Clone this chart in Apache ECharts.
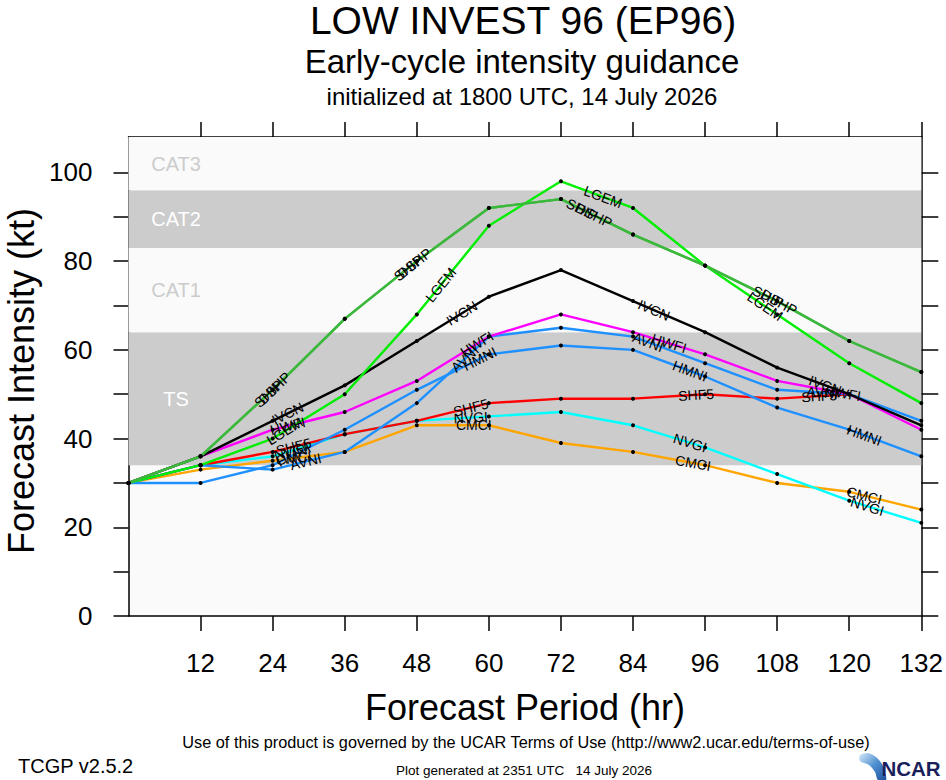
<!DOCTYPE html>
<html>
<head>
<meta charset="utf-8">
<script src="https://cdn.jsdelivr.net/npm/echarts@6.0.0/dist/echarts.min.js"></script>
<style>
  html, body { margin: 0; padding: 0; background: #ffffff; }
  #chart { width: 946px; height: 780px; }
</style>
</head>
<body>
<div id="chart"></div>
<script>
(function () {
    "use strict";

    /* forecast hours and tick values */
    var hours = [0, 12, 24, 36, 48, 60, 72, 84, 96, 108, 120, 132];
    var xLabelTicks = [12, 24, 36, 48, 60, 72, 84, 96, 108, 120, 132];
    var yMinorTicks = [0, 10, 20, 30, 40, 50, 60, 70, 80, 90, 100];
    var yLabelTicks = [0, 20, 40, 60, 80, 100];

    /* intensity (kt) per model */
    var cmci = [30, 33, 35, 37, 43, 43, 39, 37, 34, 30, 28, 24];
    var nvgi = [30, 34, 36, 41, 44, 45, 46, 43, 38, 32, 26, 21];
    var shf5 = [30, 34, 37, 41, 44, 48, 49, 49, 50, 49, 50];
    var hmni = [30, 30, 34, 42, 51, 59, 61, 60, 54, 47, 42, 36];
    var avni = [30, 34, 33, 37, 48, 63, 65, 63, 57, 51, 50, 44];
    var hwfi = [30, 36, 42, 46, 53, 63, 68, 64, 59, 53, 50, 42];
    var ivcn = [30, 36, 44, 52, 62, 72, 78, 71, 64, 56, 50, 43];
    var lgem = [30, 34, 40, 50, 68, 88, 98, 92, 79, 68, 57, 48];
    var ship = [30, 36, 51, 67, 80, 92, 94, 86, 79, 71, 62, 55];
    var dshp = [30, 36, 51, 67, 80, 92, 94, 86, 79, 71, 62, 55];

    /* Saffir-Simpson bands: name, bottom, top */
    var bandNames = ["TS", "CAT1", "CAT2", "CAT3"];
    var bandLow = [34, 64, 83, 96];
    var bandHigh = [64, 83, 96, 108];

    var FONT = "'Liberation Sans', Arial, Helvetica, sans-serif";
    var GRAY = "#cccccc";
    var PALE = "#fafafa";

    /* model drawing order, colours and where the in-line labels sit (hours) */
    var models = [
        { name: "CMCI", data: cmci, color: "#ffa500", at: [27.5, 57.5, 94, 122.5] },
        { name: "NVGI", data: nvgi, color: "#00ffff", at: [27, 57, 93.5, 123] },
        { name: "SHF5", data: shf5, color: "#ff0000", at: [27.5, 57, 94.5, 115] },
        { name: "HMNI", data: hmni, color: "#1e90ff", at: [27.5, 58.5, 93.5, 122.5] },
        { name: "AVNI", data: avni, color: "#1e90ff", at: [29.5, 56, 86.5, 115.5] },
        { name: "HWFI", data: hwfi, color: "#ff00ff", at: [26.5, 58, 90, 119] },
        { name: "IVCN", data: ivcn, color: "#000000", at: [26.5, 55.5, 87.5, 116] },
        { name: "LGEM", data: lgem, color: "#00ee00", at: [26, 52, 79, 106] },
        { name: "SHIP", data: ship, color: "#3cb83c", at: [23.3, 46.6, 75.5, 106.5] },
        { name: "DSHP", data: dshp, color: "#3cb83c", at: [24.3, 47.6, 77.5, 108.3] }
    ];

    function pairs(vals) {
        var out = [];
        for (var i = 0; i < vals.length; i++) { out.push([hours[i], vals[i]]); }
        return out;
    }

    var bandAreas = [];
    for (var b = 0; b < bandNames.length; b++) {
        var onGray = (bandNames[b] === "TS" || bandNames[b] === "CAT2");
        bandAreas.push([
            {
                name: bandNames[b],
                yAxis: bandLow[b],
                itemStyle: { color: onGray ? GRAY : PALE },
                label: { color: onGray ? "#ffffff" : GRAY }
            },
            { yAxis: bandHigh[b] }
        ]);
    }

    var series = [{
        name: "bands",
        type: "line",
        data: [],
        z: 0,
        silent: true,
        markArea: {
            silent: true,
            label: {
                show: true,
                position: [47.5, "50%"],
                align: "center",
                verticalAlign: "middle",
                fontSize: 20,
                fontFamily: FONT
            },
            data: bandAreas
        }
    }];

    models.forEach(function (m) {
        series.push({
            name: m.name,
            type: "line",
            data: pairs(m.data),
            z: 3,
            silent: true,
            symbol: "circle",
            symbolSize: 4,
            showAllSymbol: true,
            itemStyle: { color: "#000000" },
            lineStyle: { color: m.color, width: 2.4 },
            emphasis: { disabled: true },
            animation: false
        });
    });

    var chart = echarts.init(document.getElementById("chart"), null, { renderer: "svg" });

    var axisLine = { show: true, onZero: false, lineStyle: { color: "#000000", width: 1.5 } };
    var tickStyle = { color: "#000000", width: 1.5 };

    chart.setOption({
        animation: false,
        backgroundColor: "#ffffff",
        grid: {
            left: 128.5, right: 24, top: 137, bottom: 164,
            show: true, backgroundColor: PALE, borderWidth: 0
        },
        xAxis: [{
            type: "value", min: 0, max: 132, position: "bottom",
            axisLine: axisLine,
            axisTick: { show: true, length: 15, inside: false, customValues: xLabelTicks, lineStyle: tickStyle },
            axisLabel: { customValues: xLabelTicks, margin: 34, fontSize: 26, color: "#000000", fontFamily: FONT },
            splitLine: { show: false }
        }, {
            type: "value", min: 0, max: 132, position: "top",
            axisLine: axisLine,
            axisTick: { show: true, length: 15, inside: false, customValues: xLabelTicks, lineStyle: tickStyle },
            axisLabel: { show: false },
            splitLine: { show: false }
        }],
        yAxis: [{
            type: "value", min: 0, max: 108, position: "left",
            axisLine: axisLine,
            axisTick: { show: true, length: 15, inside: false, customValues: yMinorTicks, lineStyle: tickStyle },
            axisLabel: { customValues: yLabelTicks, margin: 36, fontSize: 26, color: "#000000", fontFamily: FONT },
            splitLine: { show: false }
        }, {
            type: "value", min: 0, max: 108, position: "right",
            axisLine: axisLine,
            axisTick: { show: true, length: 17, inside: false, customValues: yMinorTicks, lineStyle: tickStyle },
            axisLabel: { show: false },
            splitLine: { show: false }
        }],
        series: series
    });

    /* in-line model labels, rotated along each segment */
    function valueAt(vals, h) {
        var i = Math.min(Math.floor(h / 12), vals.length - 2);
        var t = (h - hours[i]) / (hours[i + 1] - hours[i]);
        return { i: i, v: vals[i] + t * (vals[i + 1] - vals[i]) };
    }

    var graphics = [];
    models.forEach(function (m) {
        m.at.forEach(function (h) {
            var r = valueAt(m.data, h);
            var p = chart.convertToPixel({ xAxisIndex: 0, yAxisIndex: 0 }, [h, r.v]);
            var a = chart.convertToPixel({ xAxisIndex: 0, yAxisIndex: 0 }, [hours[r.i], m.data[r.i]]);
            var c = chart.convertToPixel({ xAxisIndex: 0, yAxisIndex: 0 }, [hours[r.i + 1], m.data[r.i + 1]]);
            graphics.push({
                type: "text",
                x: p[0], y: p[1],
                rotation: Math.atan2(-(c[1] - a[1]), c[0] - a[0]),
                z: 10,
                style: {
                    text: m.name, fill: "#000000", fontSize: 14, fontFamily: FONT,
                    align: "center", verticalAlign: "middle",
                    textAlign: "center", textVerticalAlign: "middle"
                }
            });
        });
    });

    function label(text, x, y, size, extra) {
        var g = {
            type: "text", x: x, y: y, z: 10,
            style: {
                text: text, fill: "#000000", fontSize: size, fontFamily: FONT,
                align: "center", verticalAlign: "middle",
                textAlign: "center", textVerticalAlign: "middle"
            }
        };
        if (extra) {
            for (var k in extra) { g[k] = extra[k]; }
        }
        return g;
    }

    graphics.push(label("LOW INVEST 96 (EP96)", 523, 20, 39));
    graphics.push(label("Early-cycle intensity guidance", 522, 61, 33));
    graphics.push(label("initialized at 1800 UTC, 14 July 2026", 522, 96, 24));
    graphics.push(label("Forecast Intensity (kt)", 21, 381, 36, { rotation: Math.PI / 2 }));
    graphics.push(label("Forecast Period (hr)", 525, 707, 36));
    graphics.push(label("Use of this product is governed by the UCAR Terms of Use (http://www2.ucar.edu/terms-of-use)", 526, 742, 16.3));
    graphics.push(label("Plot generated at 2351 UTC   14 July 2026", 524, 770, 13.5));

    var tcgp = label("TCGP v2.5.2", 18, 766, 20);
    tcgp.style.align = "left";
    tcgp.style.textAlign = "left";
    graphics.push(tcgp);

    /* NCAR logo: blue swoosh and wordmark */
    graphics.push({
        type: "polygon", z: 10,
        shape: {
            points: [[860, 755], [868, 753], [876, 757], [882, 764], [885, 772], [886, 780], [878, 780], [875, 772], [869, 765], [860, 761]],
            smooth: 0.3
        },
        style: {
            fill: {
                type: "linear", x: 0, y: 0, x2: 1, y2: 1,
                colorStops: [
                    { offset: 0, color: "#d6eaf8" },
                    { offset: 0.5, color: "#4f8fd0" },
                    { offset: 1, color: "#1d4f9c" }
                ]
            }
        }
    });
    var ncar = label("NCAR", 911, 768, 20.5);
    ncar.style.fill = "#1a1f5c";
    ncar.style.fontWeight = "bold";
    graphics.push(ncar);

    chart.setOption({ graphic: { elements: graphics } });
}());
</script>
</body>
</html>
